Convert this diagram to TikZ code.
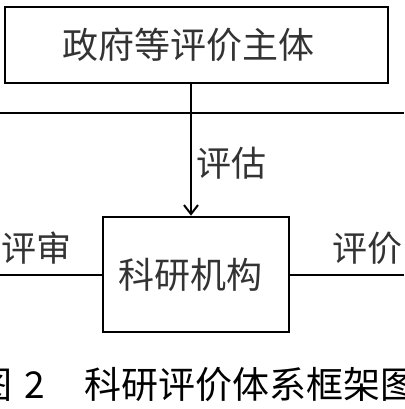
\documentclass[tikz,border=0pt]{standalone}
\usepackage{fontspec}
\newfontfamily\cjk{Noto Sans CJK SC}
\usetikzlibrary{arrows.meta}
\begin{document}
\begin{tikzpicture}[x=1pt,y=-1pt,
  box/.style={draw=black,line width=2.6pt,inner sep=0pt},
  lbl/.style={inner sep=0pt,font=\cjk\fontsize{35}{40}\selectfont,text=black!80},
  conn/.style={line width=2pt,draw=black}]
\useasboundingbox (0,0) rectangle (404,409);
\fill[white] (0,0) rectangle (404,409);
\node[box,minimum width=383pt,minimum height=76pt,font=\cjk\fontsize{36}{40}\selectfont,text=black!80] (gov) at (196.5,45) {政府等评价主体\hspace*{16pt}};
\node[box,minimum width=186pt,minimum height=115pt,font=\cjk\fontsize{36}{40}\selectfont,text=black!80] (org) at (196,274.5) {\raisebox{-2pt}{科研机构}\hspace*{12pt}};
\coordinate (v) at (191,0);
\coordinate (hl) at (0,113);
\coordinate (hr) at (404,113);
\coordinate (bl) at (0,274.5);
\coordinate (br) at (404,274.5);
\draw[conn] (hl) -- (hr);
\draw[conn,-{Straight Barb[length=9pt,width=14pt,line width=2pt]}] (gov.south -| v) -- (org.north -| v);
\draw[conn] (bl) -- (org.west);
\draw[conn] (org.east) -- (br);
\node[lbl,anchor=west] (eval1) at (196,163) {评估};
\node[lbl,anchor=west] (eval2) at (1,248) {评审};
\node[lbl,anchor=east] (eval3) at (403,248) {评价};
\node[inner sep=0pt,anchor=base west,font=\cjk\fontsize{37}{40}\selectfont] (cap) at (-25,398) {图\hspace{12pt}2\hspace{40pt}科研评价体系框架图};
\end{tikzpicture}
\end{document}
